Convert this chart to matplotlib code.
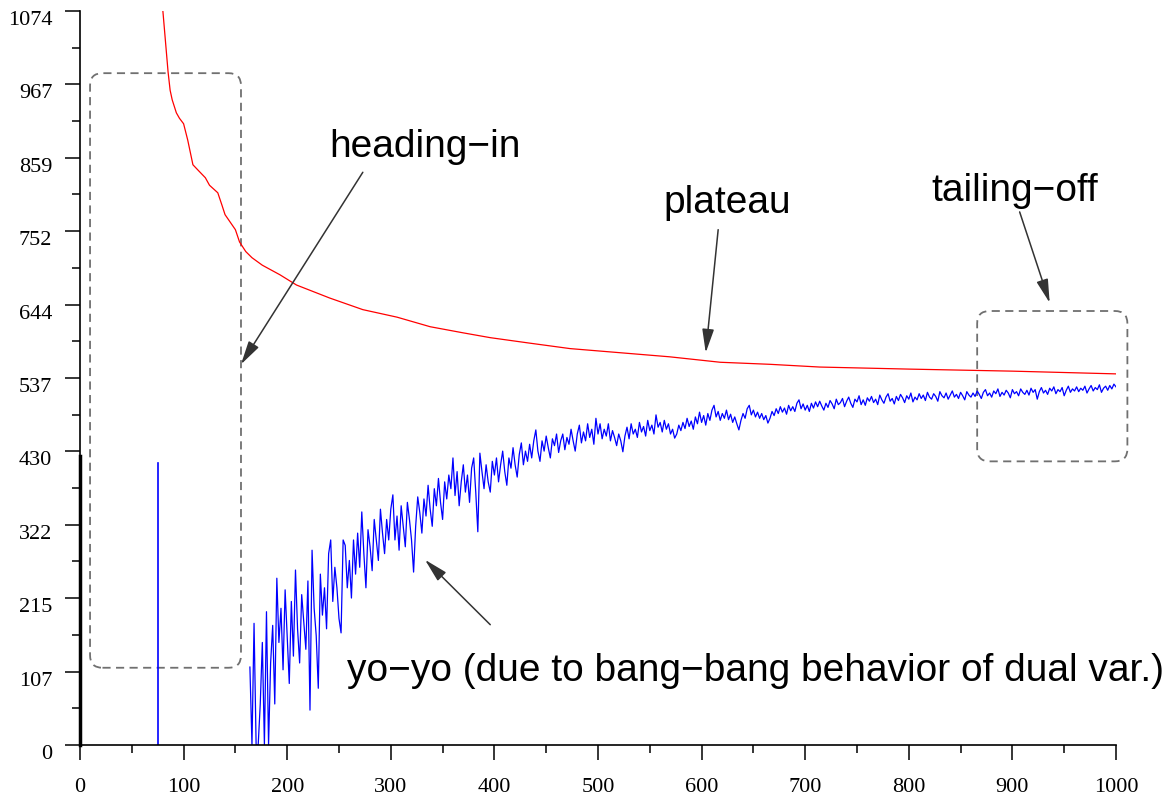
import numpy as np
import matplotlib
matplotlib.use("Agg")
import matplotlib.pyplot as plt
from matplotlib.patches import FancyBboxPatch

# upper curve (red)
red_x = [79, 80, 85, 87, 89, 93, 96, 100, 104, 109, 114, 121, 125, 133, 137,
         140, 145, 150, 154, 160, 166, 176, 193, 209, 241, 273, 306, 338, 370,
         396, 434, 473, 521, 569, 618, 666, 714, 800, 900, 1000]
red_y = [1100, 1074, 985, 958, 944, 925, 917, 909, 885, 849, 841, 830, 819,
         808, 790, 776, 765, 754, 736, 722, 713, 702, 688, 673, 654, 637, 626,
         612, 603, 596, 588, 580, 574, 568, 560, 557, 553, 550, 547, 543]

# lower curve (blue), one value every 2 iterations from 164 to 1000
blue_x = np.arange(164, 1001, 2)
blue_y = [
    114, 0, 178, 0, 0, 60, 150, 0, 195, 0, 120, 175, 60, 244, 150, 200, 110, 227, 160, 90, 210, 130, 256, 170, 120,
    220, 180, 140, 240, 51, 285, 200, 160, 83, 250, 190, 230, 170, 280, 300, 210, 260, 230, 185, 164, 300, 292, 230, 270, 215,
    300, 250, 310, 260, 341, 280, 230, 315, 290, 255, 330, 300, 270, 345, 310, 280, 330, 300, 345, 366, 300, 335, 285, 350, 320,
    290, 355, 330, 300, 253, 320, 363, 340, 310, 360, 335, 380, 345, 320, 375, 350, 390, 355, 330, 385, 360, 395, 375, 420, 365,
    400, 350, 385, 410, 370, 395, 355, 405, 420, 370, 312, 427, 400, 375, 410, 385, 370, 415, 395, 420, 385, 410, 430, 400, 380,
    420, 405, 435, 410, 392, 425, 442, 410, 430, 415, 440, 420, 445, 461, 430, 415, 445, 430, 452, 435, 420, 448, 438, 455, 428,
    445, 455, 432, 450, 440, 462, 445, 430, 455, 468, 442, 458, 445, 470, 450, 462, 440, 478, 455, 470, 448, 462, 452, 470, 445,
    460, 450, 438, 455, 445, 429, 452, 465, 448, 470, 455, 462, 450, 472, 458, 466, 452, 475, 460, 468, 455, 483, 465, 472, 458,
    475, 462, 470, 455, 462, 449, 455, 468, 460, 472, 463, 478, 466, 474, 462, 480, 470, 487, 472, 482, 468, 485, 475, 490, 497,
    480, 488, 475, 485, 478, 490, 476, 484, 472, 480, 470, 461, 475, 485, 478, 492, 497, 483, 490, 480, 487, 478, 485, 476, 482,
    471, 478, 488, 482, 492, 485, 495, 487, 493, 484, 497, 489, 495, 488, 500, 505, 492, 499, 490, 497, 488, 500, 493, 502, 495,
    503, 496, 490, 500, 494, 504, 499, 492, 506, 498, 501, 507, 495, 503, 509, 500, 494, 506, 502, 511, 498, 505, 497, 508, 503,
    510, 501, 506, 498, 512, 505, 500, 509, 514, 503, 507, 499, 510, 504, 513, 508, 501, 511, 506, 515, 502, 509, 505, 514, 507,
    512, 504, 516, 509, 506, 514, 510, 503, 517, 511, 508, 515, 506, 512, 518, 509, 513, 507, 516, 511, 505, 517, 512, 509, 515,
    510, 518, 513, 507, 516, 520, 511, 515, 509, 518, 514, 521, 510, 516, 512, 519, 515, 508, 520, 514, 517, 511, 521, 516, 513,
    519, 512, 522, 516, 520, 506, 517, 523, 515, 519, 513, 522, 518, 524, 514, 520, 517, 523, 511, 519, 525, 516, 521, 518, 524,
    517, 522, 519, 525, 515, 521, 526, 518, 523, 520, 527, 516, 522, 525, 519, 526, 521, 528, 524,
]

spike_x = [75, 75]
spike_y = [0, 413]
start_x = [0, 0]
start_y = [0, 423]

y_ticks = [0, 107, 215, 322, 430, 537, 644, 752, 859, 967, 1074]
x_ticks = list(range(0, 1001, 100))

fig = plt.figure(figsize=(11.73, 7.96), dpi=100)
ax = fig.add_axes([0.0682, 0.0641, 0.8832, 0.9221])

ax.plot(red_x, red_y, color='#ff0000', lw=0.9)
ax.plot(blue_x, blue_y, color='#0000ff', lw=0.9)
ax.plot(spike_x, spike_y, color='#0000ff', lw=1.2)
ax.plot(start_x, start_y, color='black', lw=2.5, clip_on=False)

ax.set_xlim(0, 1000)
ax.set_ylim(0, 1074)
for s in ['top', 'right']:
    ax.spines[s].set_visible(False)
for s in ['left', 'bottom']:
    ax.spines[s].set_linewidth(1.2)

ax.set_xticks(x_ticks)
ax.set_xticks(list(range(50, 1000, 100)), minor=True)
ax.set_yticks(y_ticks)
ax.set_yticks([(a + b) / 2 for a, b in zip(y_ticks[:-1], y_ticks[1:])], minor=True)
ax.set_yticklabels([str(t) for t in y_ticks])
ax.tick_params(which='major', length=11, width=1.1, labelsize=16)
ax.tick_params(which='minor', length=6, width=1.1)
ax.tick_params(axis='x', which='major', pad=13)
ax.tick_params(axis='y', which='major', pad=9)
for lab in ax.get_xticklabels() + ax.get_yticklabels():
    lab.set_fontfamily('Liberation Serif')
for lab in ax.get_yticklabels():
    lab.set_va('top')

# dashed rounded boxes
asp = 1.516
for (x0, y0, x1, y1) in [(9.7, 113, 155.4, 983), (866, 415, 1011, 635)]:
    box = FancyBboxPatch((x0, y0), x1 - x0, y1 - y0,
                         boxstyle="round,pad=0,rounding_size=12",
                         mutation_aspect=asp, fill=False,
                         edgecolor='#707070', lw=1.3,
                         linestyle=(0, (4.5, 3)), clip_on=False)
    ax.add_patch(box)

arrow = dict(arrowstyle='-|>,head_length=0.8,head_width=0.2',
             color='#333333', lw=1.1, mutation_scale=18,
             shrinkA=0, shrinkB=0)
tfont = dict(fontfamily='Liberation Sans', fontsize=28, color='black')

ax.annotate('', xy=(155.4, 557), xytext=(273, 838), arrowprops=arrow,
            annotation_clip=False)
ax.annotate('', xy=(604, 574), xytext=(616, 754), arrowprops=arrow,
            annotation_clip=False)
ax.annotate('', xy=(936, 647), xytext=(907, 780), arrowprops=arrow,
            annotation_clip=False)
ax.annotate('', xy=(333, 271), xytext=(396, 176), arrowprops=arrow,
            annotation_clip=False)

ax.text(241, 860, 'heading\u2212in', ha='left', va='baseline', **tfont)
ax.text(563, 779, 'plateau', ha='left', va='baseline', **tfont)
ax.text(822, 796, 'tailing\u2212off', ha='left', va='baseline', **tfont)
ax.text(258, 93, 'yo\u2212yo (due to bang\u2212bang behavior of dual var.)',
        ha='left', va='baseline', clip_on=False, **tfont)

fig.savefig('out.png', dpi=100)
